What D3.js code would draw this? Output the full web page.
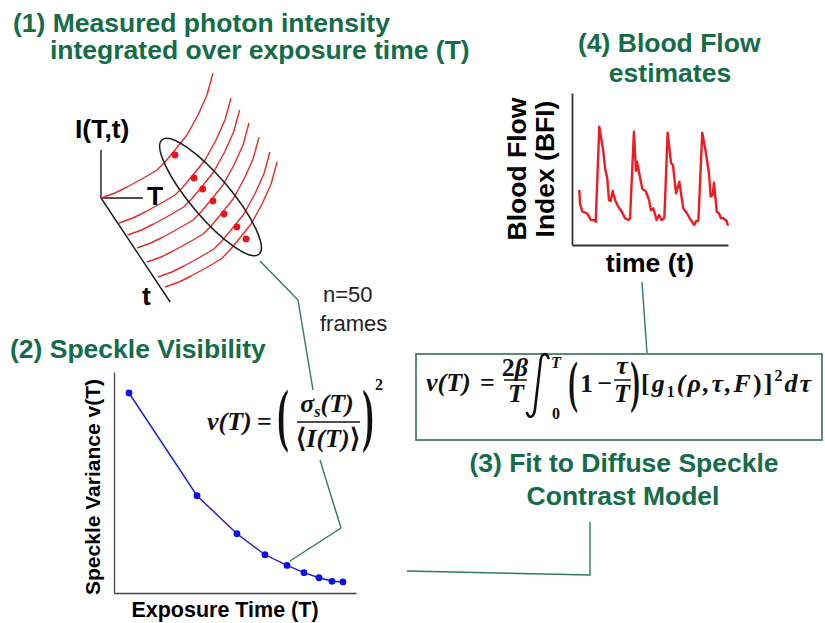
<!DOCTYPE html>
<html><head><meta charset="utf-8">
<script src="https://cdn.jsdelivr.net/npm/d3@7"></script>
<style>
html,body{margin:0;padding:0;background:#fff;}
svg{display:block;}
</style></head>
<body>
<svg id="fig" width="825" height="623"></svg>
<script>
// ---- (1) intensity curves I(T,t): profile along exposure time T (a.u.)
const profileT = [0, 14, 26, 37, 46, 56, 64, 74, 86, 97, 106, 112];
const profileI = [0, 5, 11, 17, 22, 28, 36, 48, 63, 83, 103, 125];
// acquisition time of each frame along t (a.u.)
const frameTimes = [0, 25, 37, 50, 64, 79, 89];
// sampled point picked on each frame's curve
const sampleT = [74, 75, 75, 76, 77, 79, 81];
const sampleI = [43, 45, 46, 47, 48, 50, 48];

// ---- (2) speckle variance vs exposure time
const exposureTimes   = [6.2, 34.3, 50.8, 62.4, 71.5, 78.5, 84.7, 90.1, 94.6];
const speckleVariance = [0.905, 0.440, 0.268, 0.173, 0.125, 0.092, 0.069, 0.053, 0.050];

// ---- (4) blood flow index time series
const bfiTime = [0.47,0.51,0.66,0.88,1.01,1.22,1.43,1.52,
  1.75,2.01,2.12,2.26,2.37,2.48,2.61,2.76,2.97,3.19,3.40,3.61,3.72,
  3.97,4.10,4.17,4.29,4.51,4.72,4.94,5.06,5.21,5.43,5.58,5.75,5.92,
  6.13,6.35,6.47,6.67,6.88,7.13,7.37,7.61,7.84,7.95,8.10,
  8.35,8.57,8.78,8.89,9.02,9.10,9.28,9.42,9.55,9.70,9.92,10.0];
const bfiValue = [0.362,0.274,0.219,0.213,0.202,0.164,0.163,0.153,
  0.778,0.614,0.505,0.439,0.296,0.289,0.355,0.296,0.252,0.219,0.176,0.164,0.176,
  0.745,0.487,0.548,0.482,0.368,0.355,0.296,0.228,0.241,0.164,0.197,0.164,0.176,
  0.739,0.538,0.526,0.340,0.416,0.241,0.209,0.164,0.132,0.158,0.158,
  0.739,0.614,0.472,0.318,0.329,0.410,0.219,0.209,0.176,0.176,0.158,0.127];

// ---- styling
const GREEN = "#146c48";
const LINK = "#2f7a5e";
const SANS = "'Liberation Sans', Arial, sans-serif";
const SERIF = "'Liberation Serif', 'Times New Roman', serif";

const svg = d3.select("#fig");

function label(x, y, txt, opts = {}) {
  return svg.append("text")
    .attr("x", x).attr("y", y)
    .attr("font-family", opts.family || SANS)
    .attr("font-size", opts.size || 26.5)
    .attr("font-weight", opts.weight || "bold")
    .attr("font-style", opts.style || "normal")
    .attr("fill", opts.fill || "#000")
    .attr("text-anchor", opts.anchor || "start")
    .text(txt);
}

// ================= (1) intensity curves =================
const xT = d3.scaleLinear().domain([0, 120]).range([101, 221]);
const yI = d3.scaleLinear().domain([0, 130]).range([198, 68]);
const depth = d3.scaleLinear().domain([0, 100]).range([0, 100]);
const SKEW = 0.72;       // horizontal shift per unit of depth
const project = (T, I, t) => [xT(T) + SKEW * depth(t), yI(I) + depth(t)];

const gCurves = svg.append("g");
// axes of the 3-D sketch
const o = project(0, 0, 0);
gCurves.append("path")
  .attr("d", `M${o[0]},${yI(48)}V${o[1]}H${xT(42)}M${o[0]},${o[1]}L${o[0] + 0.665 * depth(104)},${o[1] + depth(104)}`)
  .attr("fill", "none").attr("stroke", "#1a1a1a").attr("stroke-width", 1.4);

const curveLine = d3.line();
frameTimes.forEach((ft) => {
  const pts = profileT.map((T, i) => project(T, profileI[i], ft));
  gCurves.append("path").attr("d", curveLine(pts))
    .attr("fill", "none").attr("stroke", "#e32b2b").attr("stroke-width", 1.4)
    .attr("stroke-linejoin", "round");
});
const samples = frameTimes.map((ft, k) => project(sampleT[k], sampleI[k], ft));
gCurves.selectAll("circle.s").data(samples).join("circle")
  .attr("cx", d => d[0]).attr("cy", d => d[1]).attr("r", 3.4).attr("fill", "#e8141a");

// ellipse grouping the sampled points
{
  const a = samples[0], b = samples[samples.length - 1];
  const cx = (a[0] + b[0]) / 2, cy = (a[1] + b[1]) / 2;
  const half = Math.hypot(b[0] - a[0], b[1] - a[1]) / 2;
  const ang = Math.atan2(b[1] - a[1], b[0] - a[0]) * 180 / Math.PI;
  gCurves.append("ellipse")
    .attr("cx", 0).attr("cy", 0).attr("rx", half + 20).attr("ry", 20)
    .attr("transform", `translate(${cx},${cy}) rotate(${ang})`)
    .attr("fill", "none").attr("stroke", "#1a1a1a").attr("stroke-width", 1.5);
}
label(75, 138, "I(T,t)");
label(147, 205, "T");
label(142, 305, "t");

// titles
label(13, 32, "(1) Measured photon intensity", { fill: GREEN });
label(50, 59, "integrated over exposure time (T)", { fill: GREEN });
label(10, 358, "(2) Speckle Visibility", { fill: GREEN });
label(624, 472, "(3) Fit to Diffuse Speckle", { fill: GREEN, anchor: "middle" });
label(623, 505, "Contrast Model", { fill: GREEN, anchor: "middle" });
label(578, 52, "(4) Blood Flow", { fill: GREEN });
label(670, 82, "estimates", { fill: GREEN, anchor: "middle" });

label(323, 302, "n=50", { weight: "normal", size: 22, fill: "#222" });
label(320, 331, "frames", { weight: "normal", size: 22, fill: "#222" });

// ================= (4) BFI chart =================
const xTime = d3.scaleLinear().domain([0, 10]).range([572, 728]);
const yBfi = d3.scaleLinear().domain([0, 1]).range([245, 93]);
const axStyle = g => g.call(s => s.select(".domain").attr("stroke", "#333").attr("stroke-width", 1.8));
svg.append("g").attr("transform", `translate(0,${yBfi(0)})`)
  .call(d3.axisBottom(xTime).ticks(0).tickSizeOuter(0)).call(axStyle);
svg.append("g").attr("transform", `translate(${xTime(0)},0)`)
  .call(d3.axisLeft(yBfi).ticks(0).tickSizeOuter(0)).call(axStyle);
svg.append("path")
  .attr("d", d3.line().x((d, i) => xTime(bfiTime[i])).y(d => yBfi(d))(bfiValue))
  .attr("fill", "none").attr("stroke", "#ec1c24").attr("stroke-width", 2.4)
  .attr("stroke-linejoin", "round");
label(526, 169, "Blood Flow", { anchor: "middle" }).attr("transform", "rotate(-90,526,169)");
label(554, 169, "Index (BFI)", { anchor: "middle" }).attr("transform", "rotate(-90,554,169)");
label(650, 272, "time (t)", { anchor: "middle" });

// ================= (2) speckle variance chart =================
const xExp = d3.scaleLinear().domain([0, 100]).range([114, 356]);
const yVar = d3.scaleLinear().domain([0, 1]).range([593, 372]);
const axStyle2 = g => g.call(s => s.select(".domain").attr("stroke", "#444").attr("stroke-width", 1.3));
svg.append("g").attr("transform", `translate(0,${yVar(0)})`)
  .call(d3.axisBottom(xExp).ticks(0).tickSizeOuter(0)).call(axStyle2);
svg.append("g").attr("transform", `translate(${xExp(0)},0)`)
  .call(d3.axisLeft(yVar).ticks(0).tickSizeOuter(0)).call(axStyle2);
svg.append("path")
  .attr("d", d3.line().x((d, i) => xExp(exposureTimes[i])).y(d => yVar(d))(speckleVariance))
  .attr("fill", "none").attr("stroke", "#1a1ad8").attr("stroke-width", 1.4);
svg.selectAll("circle.v").data(speckleVariance).join("circle")
  .attr("cx", (d, i) => xExp(exposureTimes[i])).attr("cy", d => yVar(d))
  .attr("r", 3.4).attr("fill", "#1010e6");
label(100, 487, "Speckle Variance v(T)", { anchor: "middle", size: 21 })
  .attr("transform", "rotate(-90,100,487)");
label(225, 617, "Exposure Time (T)", { anchor: "middle", size: 21.5 });

// ================= connectors =================
const link = d => svg.append("path").attr("d", d).attr("fill", "none")
  .attr("stroke", LINK).attr("stroke-width", 1.4);
link("M260,261L298,300L313,390");
link("M320,460L341,528L290,561");
link("M590,522L590,575L407,571");
link("M642,282L647,353");

// ================= formula box (3) =================
svg.append("rect").attr("x", 416).attr("y", 354).attr("width", 406).attr("height", 86)
  .attr("fill", "none").attr("stroke", "#4b7d6c").attr("stroke-width", 1.8);

const FS = 26;
function mtext(x, y, txt, o = {}) {
  return svg.append("text").attr("x", x).attr("y", y)
    .attr("font-family", SERIF).attr("font-weight", "bold")
    .attr("font-style", o.upright ? "normal" : "italic")
    .attr("font-size", o.size || FS).attr("text-anchor", o.anchor || "start")
    .attr("fill", "#111").text(txt);
}
function bigParen(x, yTop, h, ch) {
  // stretched bracket glyph
  const fs = h / 0.9;
  svg.append("text").attr("font-family", SERIF).attr("font-size", fs)
    .attr("font-weight", "bold")
    .attr("fill", "#111").attr("text-anchor", "middle")
    .attr("transform", `translate(${x},${yTop + 0.7 * fs}) scale(0.5,1)`)
    .text(ch);
}
function bar(x1, x2, y) {
  svg.append("line").attr("x1", x1).attr("x2", x2).attr("y1", y).attr("y2", y)
    .attr("stroke", "#111").attr("stroke-width", 1.5);
}

// v(T) = 2β/T ∫_0^T (1 − τ/T) [g1(ρ,τ,F)]^2 dτ
mtext(426, 391, "v(T)");
mtext(480, 391, "=", { upright: true });
{
  const t = mtext(515, 376, "", { anchor: "middle" });
  t.append("tspan").attr("font-style", "normal").text("2");
  t.append("tspan").text("β");
}
bar(504, 527, 380);
mtext(516, 402, "T", { anchor: "middle" });
// integral sign
svg.append("path")
  .attr("d", "M548.5,358C546,352 541,353 540.5,362L535,409C534,418 529,419 527,413")
  .attr("fill", "none").attr("stroke", "#111").attr("stroke-width", 2.6)
  .attr("stroke-linecap", "round");
mtext(551, 368, "T", { size: 16 });
mtext(552, 419, "0", { size: 16, upright: true });
bigParen(573, 361, 52, "(");
mtext(580, 392, "1", { upright: true });
mtext(605, 392, "−", { upright: true, anchor: "middle" });
mtext(622, 374, "τ", { anchor: "middle" });
bar(614, 631, 380);
mtext(622, 402, "T", { anchor: "middle" });
bigParen(635, 361, 52, ")");
{
  const t = mtext(641, 392, "").attr("textLength", 170).attr("lengthAdjust", "spacing");
  t.append("tspan").attr("font-style", "normal").text("[");
  t.append("tspan").text("g");
  t.append("tspan").attr("font-style", "normal").attr("font-size", 16).attr("dy", 5).text("1");
  t.append("tspan").attr("dy", -5).text("(ρ,τ,");
  t.append("tspan").text("F");
  t.append("tspan").attr("font-style", "normal").text(")]");
  t.append("tspan").attr("font-style", "normal").attr("font-size", 16).attr("dy", -11).text("2");
  t.append("tspan").attr("dy", 11).text("dτ");
}

// v(T) = (σs(T) / ⟨I(T)⟩)^2
mtext(207, 430, "v(T)");
mtext(257, 430, "=", { upright: true });
bigParen(283, 390, 62, "(");
{
  const t = mtext(327, 412, "", { anchor: "middle" });
  t.append("tspan").text("σ");
  t.append("tspan").attr("font-size", 16).attr("dy", 5).text("s");
  t.append("tspan").attr("dy", -5).text("(T)");
}
bar(297, 360, 422);
{
  const t = mtext(328, 447, "", { anchor: "middle" });
  t.append("tspan").attr("font-style", "normal").text("⟨");
  t.append("tspan").text("I(T)");
  t.append("tspan").attr("font-style", "normal").text("⟩");
}
bigParen(368, 390, 62, ")");
mtext(375, 390, "2", { size: 16, upright: true });
</script>
</body></html>
